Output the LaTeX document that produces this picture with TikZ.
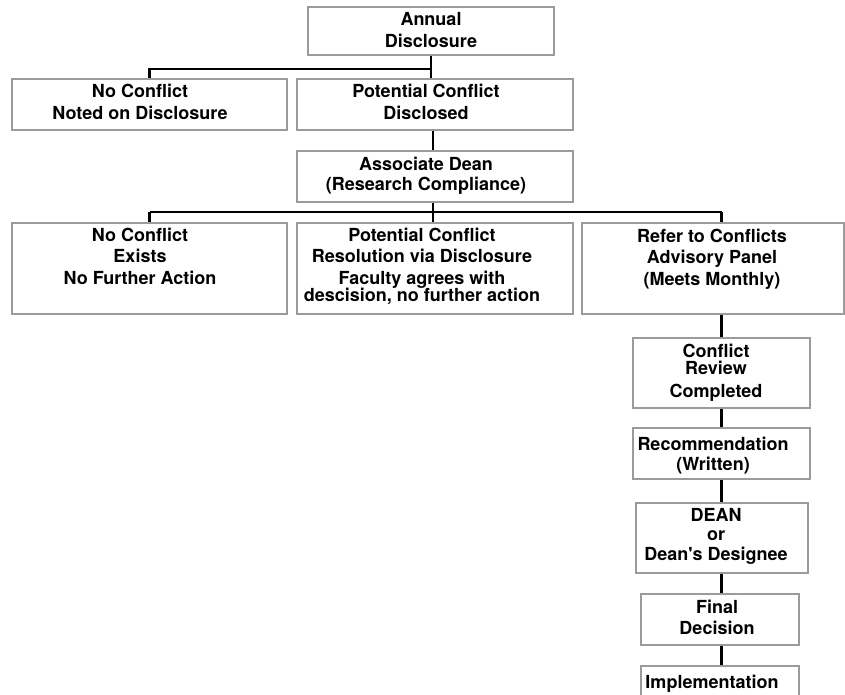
\documentclass[tikz,border=0pt]{standalone}
\usepackage{fontspec}
\setmainfont{TeX Gyre Heros}
\definecolor{boxgray}{RGB}{155,155,155}
\tikzset{
  box/.style={draw=boxgray, line width=2.1pt, rectangle, inner sep=0pt},
  conn/.style={draw=black, line width=2.3pt},
  txt/.style={font=\fontsize{18}{21.7}\selectfont\bfseries, align=center, inner sep=0pt, anchor=north},
}
\begin{document}
\begin{tikzpicture}[x=1pt, y=-1pt]
\useasboundingbox (0,0) rectangle (845,694);
\fill[white] (0,0) rectangle (845,694);
\clip (0,0) rectangle (845,694);

% boxes
\node[box, minimum width=246pt, minimum height=48pt] (annual) at (431,31) {};
\node[box, minimum width=275pt, minimum height=51pt] (noconf1) at (149.5,104.5) {};
\node[box, minimum width=276pt, minimum height=51pt] (potdisc) at (435,104.5) {};
\node[box, minimum width=276pt, minimum height=51pt] (assoc) at (435,176.5) {};
\node[box, minimum width=275pt, minimum height=91pt] (noexist) at (149.5,268.5) {};
\node[box, minimum width=276pt, minimum height=91pt] (resol) at (435,268.5) {};
\node[box, minimum width=262pt, minimum height=91pt] (refer) at (713,268.5) {};
\node[box, minimum width=177pt, minimum height=70pt] (review) at (721.5,373) {};
\node[box, minimum width=177pt, minimum height=51pt] (recomm) at (721.5,453.5) {};
\node[box, minimum width=172pt, minimum height=70pt] (dean) at (722,538) {};
\node[box, minimum width=158pt, minimum height=51pt] (final) at (720,619.5) {};
\node[box, minimum width=158pt, minimum height=50pt] (impl) at (720,691) {};

% texts
\node[txt] (annual-t) at (431,12.5) {Annual\\Disclosure};
\node[txt] (noconf1-t) at (140,84) {No Conflict\\Noted on Disclosure};
\node[txt] (potdisc-t) at (426,84) {Potential Conflict\\Disclosed};
\node[txt] (assoc-t) at (426,156.5) {Associate Dean\\[-1.7pt](Research Compliance)};
\node[txt] (noexist-t) at (140,227.5) {No Conflict\\Exists\\No Further Action};
\node[txt] (resol-t) at (422,227.5) {Potential Conflict\\Resolution via Disclosure\\Faculty agrees with\\[-4.7pt]descision, no further action};
\node[txt] (refer-t) at (712,228.5) {Refer to Conflicts\\Advisory Panel\\(Meets Monthly)};
\node[txt] (review-t) at (716,343.5) {Conflict\\[-4.7pt]Review\\[1.3pt]Completed};
\node[txt] (recomm-t) at (713,436.5) {Recommendation\\[-1.7pt](Written)};
\node[txt] (dean-t) at (716,508.5) {DEAN\\[-2.7pt]or\\[-1.7pt]Dean\textquotesingle s Designee};
\node[txt] (final-t) at (717,599.5) {Final\\[-0.7pt]Decision};
\node[txt] (impl-t) at (712,674.5) {Implementation};

% connectors
\coordinate (j1) at (431,69);
\coordinate (j2) at (433,212);
\draw[conn] (annual.south) -- (annual.south |- potdisc.north);
\draw[conn] (j1) -| (noconf1.north);
\draw[conn] (j2 |- potdisc.south) -- (j2 |- assoc.north);
\draw[conn] (j2 |- assoc.south) -- (j2 |- resol.north);
\draw[conn] (noexist.north |- j2) -- (review.north |- j2);
\draw[conn] (noexist.north |- j2) -- (noexist.north);
\draw[conn] (review.north |- j2) -- (review.north |- refer.north);
\draw[conn] (review.north |- refer.south) -- (review.north);
\draw[conn] (review.south) -- (review.south |- recomm.north);
\draw[conn] (review.south |- recomm.south) -- (review.south |- dean.north);
\draw[conn] (review.south |- dean.south) -- (review.south |- final.north);
\draw[conn] (review.south |- final.south) -- (review.south |- impl.north);
\end{tikzpicture}
\end{document}
